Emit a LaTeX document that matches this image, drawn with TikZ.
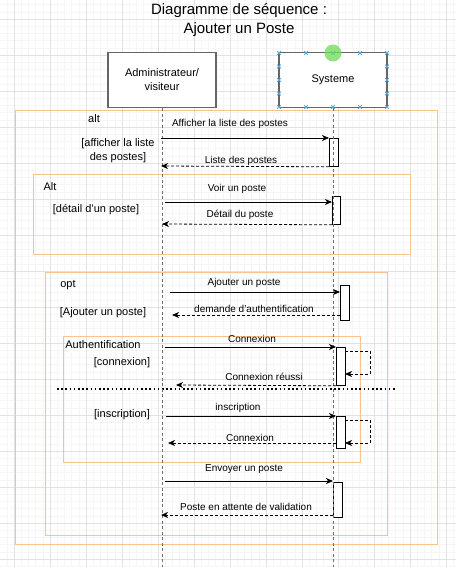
\documentclass[tikz,border=0pt]{standalone}
\usepackage{fontspec}
\setmainfont{Liberation Sans}
\usetikzlibrary{arrows.meta}
\definecolor{gridmajor}{RGB}{226,226,226}
\definecolor{gridminor}{RGB}{246,246,246}
\definecolor{boxgray}{RGB}{102,102,102}
\definecolor{lifegray}{RGB}{110,110,110}
\definecolor{framecol}{RGB}{246,196,140}
\definecolor{handleblue}{RGB}{80,170,220}
\definecolor{handlegreen}{RGB}{110,220,90}
\tikzset{
  actorbox/.style={draw=boxgray, line width=1.6pt, fill=white, minimum width=108pt, minimum height=55pt, inner sep=0pt, align=center, font=\fontsize{11}{14}\selectfont},
  lifeline/.style={draw=lifegray, line width=0.9pt, dash pattern=on 3pt off 2.5pt},
  actbar/.style={draw=black, line width=0.8pt, fill=white, minimum width=9pt, inner sep=0pt, anchor=north west},
  msg/.style={draw=black, line width=0.8pt, -{Stealth[length=7pt,width=6pt,inset=2pt]}},
  retmsg/.style={msg, dash pattern=on 3pt off 2pt},
  msglabel/.style={font=\fontsize{10}{12}\selectfont, inner sep=0pt},
  framebox/.style={draw=framecol, line width=1pt},
  framelabel/.style={font=\fontsize{11}{14}\selectfont, inner sep=0pt, align=center},
  handle/.style={draw=handleblue, line width=0.9pt}
}
\begin{document}
\begin{tikzpicture}[x=1pt,y=-1pt]
\useasboundingbox (0,0) rectangle (456,567);
\fill[white] (0,0) rectangle (456,567);
% grid
\foreach \i in {-2,...,62} {\draw[gridminor, line width=0.4pt] ({14+7.2*\i},0) -- ({14+7.2*\i},567);}
\foreach \i in {-3,...,76} {\draw[gridminor, line width=0.4pt] (0,{19+7.2*\i}) -- (456,{19+7.2*\i});}
\foreach \i in {0,...,12} {\draw[gridmajor, line width=0.5pt] ({14+36*\i},0) -- ({14+36*\i},567);}
\foreach \i in {0,...,15} {\draw[gridmajor, line width=0.5pt] (0,{19+36*\i}) -- (456,{19+36*\i});}

% title
\node[font=\fontsize{15}{19}\selectfont, align=center, inner sep=0pt] (title) at (239,20) {Diagramme de séquence :\\Ajouter un Poste};

% frames
\draw[framebox] (15,111) rectangle (437,544);
\draw[framebox] (33,174) rectangle (410,254);
\draw[framebox] (45,272) rectangle (387,535);
\draw[framebox] (63,336) rectangle (360,462);
\draw[black, line width=1.3pt, dash pattern=on 1.6pt off 2.6pt] (57,389) -- (397,389);

% actors
\node[actorbox] (admin) at (162,80) {Administrateur/\\visiteur};
\node[actorbox] (sys) at (333,80) {Systeme};

% lifelines
\coordinate (adminEnd) at (162,567);
\coordinate (sysEnd) at (333,567);
\draw[lifeline] (admin.south) -- (adminEnd);

% activation bars
\node[actbar, minimum height=28pt] (act1) at (329,138) {};
\node[actbar, minimum height=28pt, minimum width=8pt] (act2) at (332,196) {};
\node[actbar, minimum height=35pt] (act3) at (340,285) {};
\node[actbar, minimum height=38pt] (act4) at (336,347) {};
\node[actbar, minimum height=32pt] (act5) at (336,416) {};
\node[actbar, minimum height=35pt] (act6) at (333,482) {};
\draw[lifeline] (sys.south) -- (sysEnd);

% frame labels
\node[framelabel] (lalt) at (94,119) {alt};
\node[framelabel] (g1) at (118,151) {[afficher la liste\\des postes]};
\node[framelabel] (lalt2) at (50,187) {Alt};
\node[framelabel] (g2) at (96,210) {[détail d'un poste]};
\node[framelabel] (lopt) at (68,285) {opt};
\node[framelabel] (g3) at (103,313) {[Ajouter un poste]};
\node[framelabel] (lauth) at (103,345) {Authentification};
\node[framelabel] (g4) at (122,363) {[connexion]};
\node[framelabel] (g5) at (122,415) {[inscription]};

% message endpoints
\coordinate (s1) at (161,138);
\coordinate (e1) at (161,166);
\coordinate (s2) at (165,202);
\coordinate (t2) at (332,202);
\coordinate (e2) at (162,224);
\coordinate (s3) at (170,292);
\coordinate (t3) at (340,292);
\coordinate (f3) at (340,315);
\coordinate (e3) at (172,315);
\coordinate (s4) at (165,347);
\coordinate (e4) at (176,385);
\coordinate (a4) at (345,351);
\coordinate (b4) at (370,351);
\coordinate (c4) at (370,374);
\coordinate (d4) at (345,374);
\coordinate (s5) at (166,416);
\coordinate (a5) at (345,420);
\coordinate (b5) at (370,420);
\coordinate (c5) at (370,443);
\coordinate (d5) at (345,443);
\coordinate (f5) at (336,443);
\coordinate (e5) at (168,443);
\coordinate (s6) at (165,481);
\coordinate (t6) at (333,481);
\coordinate (f6) at (333,515);
\coordinate (e6) at (161,515);

% messages
\draw[msg] (s1) -- (act1.north west);
\draw[retmsg] (act1.south west) -- (e1);
\draw[msg] (s2) -- (t2);
\draw[retmsg] (act2.south west) -- (e2);
\draw[msg] (s3) -- (t3);
\draw[retmsg] (f3) -- (e3);
\draw[msg] (s4) -- (act4.north west);
\draw[retmsg] (a4) -- (b4) -- (c4) -- (d4);
\draw[retmsg] (act4.south west) -- (e4);
\draw[msg] (s5) -- (act5.north west);
\draw[retmsg] (a5) -- (b5) -- (c5) -- (d5);
\draw[retmsg] (f5) -- (e5);
\draw[msg] (s6) -- (t6);
\draw[retmsg] (f6) -- (e6);

% message labels
\node[msglabel] (l1) at (230,124) {Afficher la liste des postes};
\node[msglabel] (l2) at (241,161) {Liste des postes};
\node[msglabel] (l3) at (237,189) {Voir un poste};
\node[msglabel] (l4) at (240,215) {Détail du poste};
\node[msglabel] (l5) at (244,283) {Ajouter un poste};
\node[msglabel] (l6) at (254,309) {demande d'authentification};
\node[msglabel] (l7) at (252,339) {Connexion};
\node[msglabel] (l8) at (264,377) {Connexion réussi};
\node[msglabel] (l9) at (238,408) {inscription};
\node[msglabel] (l10) at (250,438) {Connexion};
\node[msglabel] (l11) at (244,469) {Envoyer un poste};
\node[msglabel] (l12) at (246,507) {Poste en attente de validation};

% selection handles on Systeme
\foreach \x in {279,306,333,360,387} {
  \foreach \y in {53,107} {
    \draw[handle] (\x-1.8,\y-1.8) -- (\x+1.8,\y+1.8) (\x-1.8,\y+1.8) -- (\x+1.8,\y-1.8);
  }
}
\foreach \y in {66.5,80,93.5} {
  \foreach \x in {279,387} {
    \draw[handle] (\x-1.8,\y-1.8) -- (\x+1.8,\y+1.8) (\x-1.8,\y+1.8) -- (\x+1.8,\y-1.8);
  }
}
\fill[handlegreen, opacity=0.75] (333,53) circle (8.5);
\end{tikzpicture}
\end{document}
